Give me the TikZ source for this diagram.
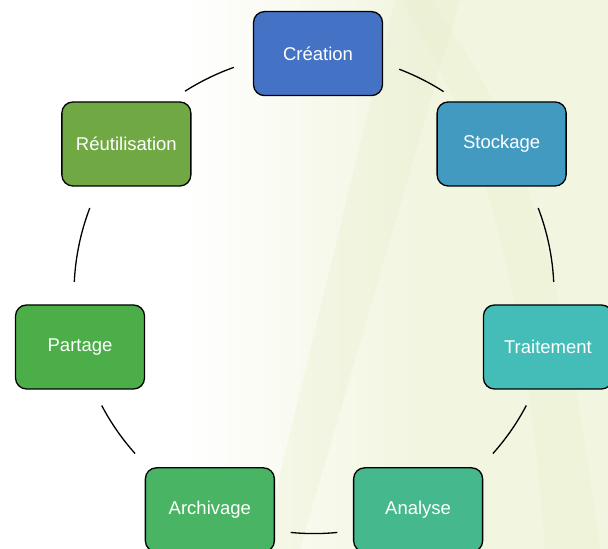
\documentclass[tikz,border=0pt]{standalone}
\usepackage{fontspec}
\setmainfont{Liberation Sans}
\usetikzlibrary{calc}
\definecolor{cA}{HTML}{4472C4}
\definecolor{cB}{HTML}{439AC1}
\definecolor{cC}{HTML}{44BDB8}
\definecolor{cD}{HTML}{45B98D}
\definecolor{cE}{HTML}{48B464}
\definecolor{cF}{HTML}{4CAE48}
\definecolor{cG}{HTML}{70A843}
\definecolor{bgR}{HTML}{F2F5E0}
\definecolor{streak}{HTML}{E6EDC6}
\tikzset{
  stage/.style={draw=black, line width=1.3pt, rounded corners=11pt,
    minimum width=129pt, minimum height=84pt, text=white,
    font=\fontsize{18.5}{22}\selectfont, inner sep=0pt},
  link/.style={draw=black, line width=1.3pt}
}
\begin{document}
\begin{tikzpicture}[x=1pt,y=1pt]
\useasboundingbox (0,0) rectangle (608,549);
\clip (0,0) rectangle (608,549);
% background
\fill[white] (0,0) rectangle (608,549);
\shade[left color=white, right color=bgR] (180,0) rectangle (420,549);
\fill[bgR] (419.5,0) rectangle (608,549);
\fill[streak, opacity=0.25] (395,549) -- (460,549) -- (300,0) -- (262,0) -- cycle;
\fill[streak, opacity=0.22] (430,549) .. controls (520,430) and (560,300) .. (600,0) -- (545,0) .. controls (525,260) and (485,420) .. (400,549) -- cycle;
% centre of the cycle
\coordinate (c) at (314,255.4);
% stages
\node[stage, fill=cA] (crea) at ($(c)+(90:240)+(4,0)$) {Création};
\node[stage, fill=cB] (stock) at ($(c)+(38.571:240)$) {Stockage};
\node[stage, fill=cC] (trait) at ($(c)+(-12.857:240)$) {Traitement};
\node[stage, fill=cD] (anal) at ($(c)+(-64.286:240)$) {Analyse};
\node[stage, fill=cE] (arch) at ($(c)+(-115.714:240)$) {Archivage};
\node[stage, fill=cF] (part) at ($(c)+(-167.143:240)$) {Partage};
\node[stage, fill=cG] (reut) at ($(c)+(141.429:240)$) {Réutilisation};
% connecting arcs on the cycle
\draw[link] ($(c)+(69.2:240)$) arc (69.2:57.3:240);
\draw[link] ($(c)+(20.9:240)$) arc (20.9:2.8:240);
\draw[link] ($(c)+(-27.8:240)$) arc (-27.8:-41.8:240);
\draw[link] ($(c)+(-84.4:240)$) arc (-84.4:-95.6:240);
\draw[link] ($(c)+(-138.2:240)$) arc (-138.2:-152.2:240);
\draw[link] ($(c)+(177.2:240)$) arc (177.2:159.1:240);
\draw[link] ($(c)+(122.5:240)$) arc (122.5:109.5:240);
\end{tikzpicture}
\end{document}
